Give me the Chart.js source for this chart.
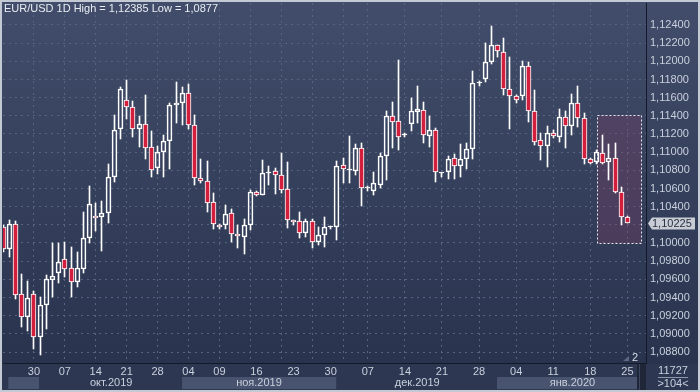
<!DOCTYPE html>
<html><head><meta charset="utf-8">
<script src="https://cdn.jsdelivr.net/npm/chart.js@4/dist/chart.umd.min.js"></script>
<style>html,body{margin:0;padding:0;background:#c4cad3;overflow:hidden}canvas{display:block}</style>
</head><body>
<canvas id="c" width="700" height="392"></canvas>
<script>
// ---- data ----
const opens = [1.10179,1.09937,1.10209,1.09435,1.09188,1.09435,1.08968,1.09317,1.09596,1.09666,
1.09820,1.09721,1.09567,1.09717,1.10052,1.10300,1.10283,1.10327,1.10730,1.11252,
1.11571,1.11494,1.11252,1.11307,1.11053,1.10822,1.10998,1.11120,1.11516,1.11538,
1.11648,1.11296,1.10712,1.10679,1.10455,1.10201,1.10195,1.10327,1.10096,1.10069,
1.10195,1.10558,1.10532,1.10774,1.10793,1.10745,1.10591,1.10253,1.10239,1.10107,
1.10242,1.10008,1.10088,1.10173,1.10179,1.10855,1.10807,1.10796,1.11046,1.10609,
1.10576,1.10638,1.10958,1.11395,1.11340,1.11189,1.11307,1.11445,1.11461,1.11181,
1.11241,1.10767,1.10778,1.10936,1.10848,1.10921,1.11035,1.11758,1.11809,1.11989,
1.12180,1.12099,1.11699,1.11615,1.11615,1.11945,1.11450,1.11131,1.11064,1.11208,
1.11164,1.11384,1.11285,1.11538,1.11373,1.10928,1.10897,1.10987,1.10888,1.10932,
1.10558,1.10283];
const highs = [1.10198,1.10253,1.10242,1.09659,1.09585,1.09475,1.09402,1.09647,1.10003,1.09997,
1.10011,1.09953,1.09901,1.10341,1.10627,1.10437,1.10462,1.10870,1.11406,1.11721,
1.11794,1.11560,1.11398,1.11629,1.11233,1.11068,1.11186,1.11538,1.11772,1.11721,
1.11750,1.11406,1.10925,1.10903,1.10547,1.10206,1.10418,1.10371,1.10195,1.10264,
1.10583,1.10567,1.10914,1.10848,1.10829,1.10994,1.10892,1.10258,1.10341,1.10261,
1.10264,1.10173,1.10289,1.10192,1.10903,1.10939,1.11178,1.11090,1.11098,1.10631,
1.10778,1.10987,1.11453,1.11549,1.12015,1.11208,1.11596,1.11728,1.11552,1.11401,
1.11263,1.10771,1.10961,1.10976,1.11086,1.11104,1.11894,1.11783,1.12205,1.12385,
1.12183,1.12254,1.12051,1.11626,1.12004,1.11996,1.11684,1.11214,1.11288,1.11244,
1.11472,1.11453,1.11637,1.11728,1.11428,1.10936,1.11024,1.11189,1.11086,1.11098,
1.10620,1.10292];
const lows = [1.09901,1.09842,1.09387,1.09072,1.09034,1.08830,1.08770,1.09050,1.09409,1.09563,
1.09622,1.09409,1.09519,1.09666,1.10003,1.10135,1.09915,1.10223,1.10671,1.11142,
1.11368,1.11170,1.11060,1.10928,1.10730,1.10763,1.10730,1.10818,1.11324,1.11296,
1.11258,1.10635,1.10664,1.10344,1.10157,1.10157,1.10157,1.10014,1.09941,1.09882,
1.10140,1.10517,1.10530,1.10642,1.10539,1.10547,1.10162,1.10198,1.10055,1.10069,
1.09941,1.09978,1.09959,1.10154,1.10033,1.10664,1.10664,1.10749,1.10411,1.10576,
1.10528,1.10609,1.10693,1.11042,1.11024,1.11164,1.11233,1.11318,1.11104,1.11060,
1.10668,1.10730,1.10701,1.10704,1.10723,1.10818,1.10921,1.11732,1.11776,1.11967,
1.12051,1.11629,1.11252,1.11538,1.11574,1.11335,1.11079,1.10914,1.10840,1.11153,
1.11115,1.11049,1.11189,1.11280,1.10866,1.10870,1.10870,1.10866,1.10693,1.10547,
1.10198,1.10220];
const closes = [1.09930,1.10209,1.09431,1.09188,1.09394,1.08968,1.09314,1.09603,1.09640,1.09787,
1.09710,1.09567,1.09721,1.10052,1.10426,1.10272,1.10327,1.10723,1.11241,1.11692,
1.11494,1.11252,1.11307,1.11042,1.10800,1.10998,1.11123,1.11519,1.11538,1.11648,
1.11296,1.10712,1.10679,1.10444,1.10209,1.10173,1.10316,1.10096,1.10074,1.10195,
1.10558,1.10525,1.10771,1.10776,1.10745,1.10587,1.10253,1.10231,1.10107,1.10239,
1.10008,1.10088,1.10173,1.10175,1.10851,1.10815,1.10809,1.11046,1.10602,1.10611,
1.10657,1.10958,1.11395,1.11335,1.11170,1.11191,1.11450,1.11472,1.11186,1.11241,
1.10778,1.10769,1.10921,1.10848,1.10921,1.11035,1.11758,1.11760,1.11989,1.12180,
1.12114,1.11699,1.11615,1.11571,1.11945,1.11450,1.11115,1.11064,1.11208,1.11178,
1.11384,1.11285,1.11538,1.11379,1.10921,1.10877,1.10998,1.10877,1.10932,1.10558,
1.10283,1.10225];

const dayTickIndex  = [5,10,15,20,25,30,35,41,47,53,59,65,71,77,83,89,95,101];
const dayTickLabels = ['30','07','14','21','28','04','09','16','23','30','07','14','21','28','04','11','18','25'];
const gridIndex = [5,10,15,20,25,30,35,40,45,50,55,59,65,71,77,83,89,95,101];
const monthLabels = ['окт.2019','ноя.2019','дек.2019','янв.2020'];
const monthLabelIndex = [17.5,41.4,67,92.1];
const monthBandStart = [0.86,28.96,79.9];
const monthBandEnd   = [5.83,53.9,102.6];
const yTickValues = [1.088,1.090,1.092,1.094,1.096,1.098,1.100,1.102,1.104,1.106,1.108,1.110,1.112,1.114,1.116,1.118,1.120,1.122,1.124];
const titleText = 'EUR/USD 1D High = 1,12385 Low = 1,0877';
const barsTotal = '11727';
const barsVisible = '>104<';
const selX = [96.05, 103.15];
const selY = [1.1000, 1.1141];

// ---- style ----
const FONT = "'Liberation Sans Narrow', 'Liberation Sans', Arial, sans-serif";
const RED = '#d11f3d', WHITE = '#ffffff';
const TXT = '#c9d0dc', GRID = '#58637f', AXISLINE = '#131926';

const idx = opens.map((_, i) => i);
const upperWicks = idx.map(i => ({x: i, y: [Math.max(opens[i], closes[i]), highs[i]]}));
const lowerWicks = idx.map(i => ({x: i, y: [lows[i], Math.min(opens[i], closes[i])]}));
const bodies = idx.map(i => ({x: i, y: [opens[i], closes[i]]}));
const bodyFill = idx.map(i => Math.abs(closes[i] - opens[i]) < 0.00005 ? WHITE : (closes[i] < opens[i] ? RED : 'rgba(0,0,0,0)'));
const lastClose = closes[closes.length - 1];

const xTickSet = Array.from(new Set(dayTickIndex.concat(gridIndex))).sort((a, b) => a - b);

// snap bar elements to whole pixels so 1px wicks and 5px bodies are crisp
const snapPlugin = {
  id: 'snap',
  afterDatasetsUpdate(chart) {
    chart.data.datasets.forEach((ds, di) => {
      const meta = chart.getDatasetMeta(di);
      meta.data.forEach(el => {
        el.x = Math.floor(el.x) + 0.5;
        const a = Math.round(el.y), b = Math.round(el.base);
        el.y = a; el.base = b;
        if (di === 2 && a === b) el.base = a + 1;
      });
    });
  }
};

const bgPlugin = {
  id: 'bg',
  beforeDraw(chart) {
    const {ctx, scales} = chart;
    ctx.save();
    ctx.fillStyle = '#c4cad3';
    ctx.fillRect(0, 0, 700, 392);
    const g = ctx.createLinearGradient(0, 2, 0, 363);
    g.addColorStop(0, '#414d6a');
    g.addColorStop(1, '#29334e');
    ctx.fillStyle = g;
    ctx.fillRect(2, 2, 696, 362);
    ctx.fillStyle = '#2d3752';
    ctx.fillRect(2, 364, 696, 26);
    ctx.fillStyle = '#48536f';
    const xs = scales.x;
    monthBandStart.forEach((s, k) => {
      const x0 = xs.getPixelForValue(s), x1 = xs.getPixelForValue(monthBandEnd[k]);
      ctx.fillRect(x0, 377, x1 - x0, 12);
    });
    ctx.restore();
  }
};

const selPlugin = {
  id: 'sel',
  beforeDatasetsDraw(chart) {
    const {ctx, scales} = chart;
    const x0 = Math.round(scales.x.getPixelForValue(selX[0])) + 0.5;
    const x1 = Math.round(scales.x.getPixelForValue(selX[1])) + 0.5;
    const y0 = Math.round(scales.y.getPixelForValue(selY[1])) + 0.5;
    const y1 = Math.round(scales.y.getPixelForValue(selY[0])) + 0.5;
    ctx.save();
    ctx.fillStyle = 'rgba(140,60,100,0.28)';
    ctx.fillRect(x0, y0, x1 - x0, y1 - y0);
    ctx.setLineDash([2, 2]);
    ctx.strokeStyle = '#e8e8ee';
    ctx.lineWidth = 1;
    ctx.strokeRect(x0, y0, x1 - x0, y1 - y0);
    ctx.restore();
  }
};

const overlayPlugin = {
  id: 'overlay',
  afterDraw(chart) {
    const {ctx, scales} = chart;
    ctx.save();
    ctx.font = '11px ' + FONT;
    ctx.textBaseline = 'middle';
    ctx.fillStyle = '#e9edf3';
    ctx.textAlign = 'left';
    ctx.fillText(titleText, 4, 9);
    const py = Math.round(scales.y.getPixelForValue(lastClose)) + 0.5;
    ctx.fillStyle = '#c8cdd5';
    ctx.beginPath();
    ctx.moveTo(648, py);
    ctx.lineTo(652, py - 6);
    ctx.lineTo(695, py - 6);
    ctx.lineTo(695, py + 6);
    ctx.lineTo(652, py + 6);
    ctx.closePath();
    ctx.fill();
    ctx.fillStyle = '#2a3142';
    ctx.fillText(lastClose.toFixed(5).replace('.', ','), 652, py);
    ctx.fillStyle = '#1f2638';
    ctx.fillRect(637, 364, 9, 26);
    ctx.fillStyle = '#3c4660';
    ctx.fillRect(639, 364, 1, 26);
    ctx.fillStyle = TXT;
    ctx.textAlign = 'center';
    ctx.fillText(barsTotal, 673, 371);
    ctx.fillText(barsVisible, 673, 384);
    ctx.fillStyle = '#8e98aa';
    ctx.fillRect(658, 377, 30, 1);
    ctx.fillStyle = '#5d6781';
    ctx.beginPath();
    ctx.moveTo(623, 361); ctx.lineTo(629, 361); ctx.lineTo(629, 356); ctx.closePath(); ctx.fill();
    ctx.fillStyle = '#d6dce6';
    ctx.fillText('2', 635, 358);
    ctx.restore();
  }
};

const common = {type: 'bar', grouped: false, xAxisID: 'x', yAxisID: 'y', borderSkipped: false};

new Chart(document.getElementById('c'), {
  type: 'bar',
  data: {
    datasets: [
      Object.assign({}, common, {label: 'upper', data: upperWicks, barThickness: 1, backgroundColor: WHITE, borderWidth: 0}),
      Object.assign({}, common, {label: 'lower', data: lowerWicks, barThickness: 1, backgroundColor: WHITE, borderWidth: 0}),
      Object.assign({}, common, {label: 'body', data: bodies, barThickness: 5, minBarLength: 1,
        backgroundColor: bodyFill, borderColor: WHITE, borderWidth: 1})
    ]
  },
  options: {
    responsive: false,
    animation: false,
    devicePixelRatio: 1,
    events: [],
    layout: {padding: {left: 3, top: 3, right: 3, bottom: 3}},
    plugins: {legend: {display: false}, tooltip: {enabled: false}},
    scales: {
      x: {
        type: 'linear', position: 'bottom', weight: 0, min: 0, max: 104, offset: false,
        afterBuildTicks: s => { s.ticks = xTickSet.map(v => ({value: v})); },
        afterFit: s => { s.height = 13; s.paddingLeft = 0; s.paddingRight = 0; },
        ticks: {
          autoSkip: false, maxRotation: 0, minRotation: 0, padding: 2, color: TXT,
          font: {family: FONT, size: 11},
          callback: v => { const k = dayTickIndex.indexOf(v); return k >= 0 ? dayTickLabels[k] : ''; }
        },
        grid: {
          offset: false, drawTicks: false,
          color: c => (c.tick && gridIndex.includes(c.tick.value)) ? GRID : 'rgba(0,0,0,0)'
        },
        border: {display: true, color: AXISLINE, width: 1, dash: [2, 4]}
      },
      x2: {
        type: 'linear', position: 'bottom', weight: 1, min: 0, max: 104, offset: false,
        afterBuildTicks: s => { s.ticks = monthLabelIndex.map(v => ({value: v})); },
        afterFit: s => { s.height = 13; s.paddingLeft = 0; s.paddingRight = 0; },
        ticks: {
          autoSkip: false, maxRotation: 0, minRotation: 0, padding: 0, color: TXT,
          font: {family: FONT, size: 11},
          callback: v => { const k = monthLabelIndex.indexOf(v); return k >= 0 ? monthLabels[k] : ''; }
        },
        grid: {display: false, drawTicks: false},
        border: {display: false}
      },
      y: {
        type: 'linear', position: 'right', min: 1.08679, max: 1.12642,
        afterBuildTicks: s => { s.ticks = yTickValues.map(v => ({value: v})); },
        afterFit: s => { s.width = 51; s.paddingTop = 0; s.paddingBottom = 0; },
        ticks: {
          padding: 4, color: TXT, font: {family: FONT, size: 11},
          callback: v => Math.abs(v - lastClose) < 0.0004 ? '' : v.toFixed(5).replace('.', ',')
        },
        grid: {drawTicks: false, color: GRID},
        border: {display: true, color: AXISLINE, width: 1, dash: [2, 4]}
      }
    }
  },
  plugins: [snapPlugin, bgPlugin, selPlugin, overlayPlugin]
});
</script>
</body></html>
